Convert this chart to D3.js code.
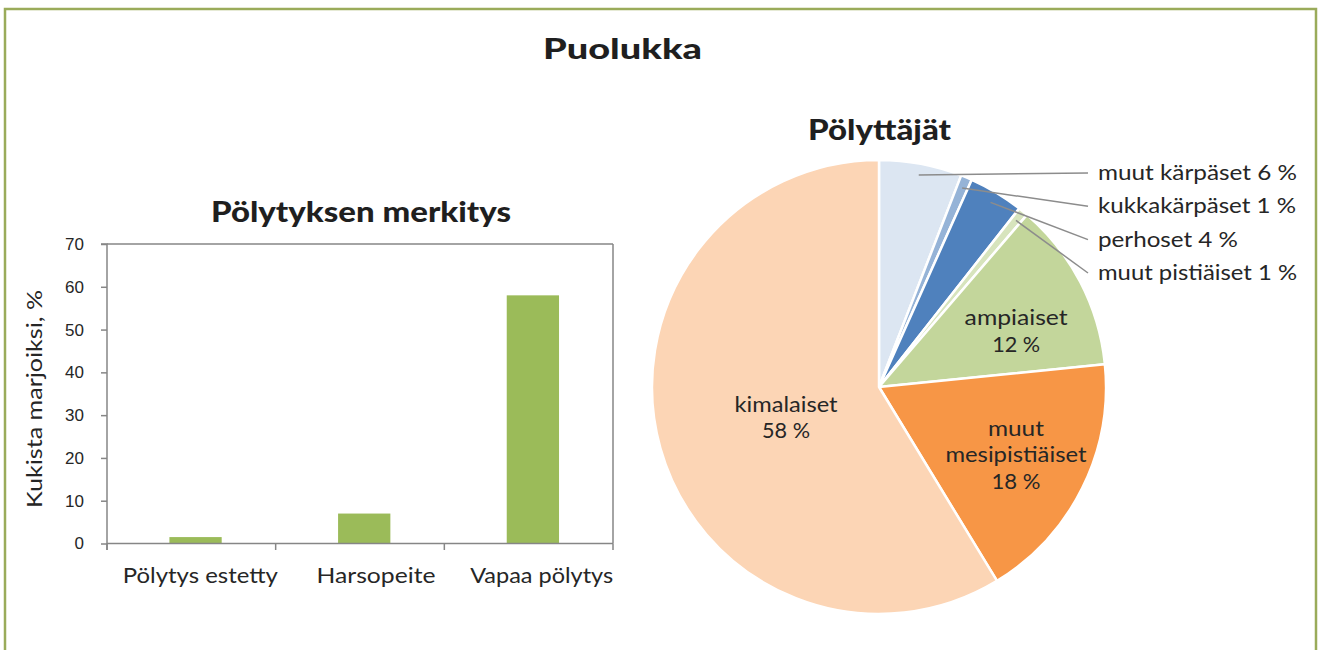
<!DOCTYPE html>
<html>
<head>
<meta charset="utf-8">
<script src="https://cdn.jsdelivr.net/npm/d3@7"></script>
<style>
  html, body { margin: 0; padding: 0; background: #fff; }
  svg { display: block; }
</style>
</head>
<body>
<svg id="chart" width="1318" height="650"></svg>
<script>
// ---------- data ----------
const mainTitle = "Puolukka";

const barTitle = "Pölytyksen merkitys";
const barCategories = ["Pölytys estetty", "Harsopeite", "Vapaa pölytys"];
const barValues = [1.5, 7, 58];
const yTickValues = [0, 10, 20, 30, 40, 50, 60, 70];
const yAxisLabel = "Kukista marjoiksi, %";

const pieTitle = "Pölyttäjät";
const pieCategories = ["muut kärpäset", "kukkakärpäset", "perhoset", "muut pistiäiset",
                       "ampiaiset", "muut mesipistiäiset", "kimalaiset"];
const pieValues = [5.9, 0.8, 3.9, 0.7, 12.1, 17.9, 58.7];
const piePercentLabels = ["6 %", "1 %", "4 %", "1 %", "12 %", "18 %", "58 %"];
const pieColors = ["#DCE6F2", "#95B3D7", "#4F81BD", "#D7E4BD", "#C3D69B", "#F79646", "#FCD5B5"];

// ---------- setup ----------
const svg = d3.select("#chart");
const FONT = "Lato, 'Open Sans', sans-serif";
const TXT = "#262626";

// frame
svg.append("rect")
  .attr("x", 5).attr("y", 9).attr("width", 1311).attr("height", 720)
  .attr("fill", "none").attr("stroke", "#9aab5a").attr("stroke-width", 2.5);

function fit(sel, w) {
  sel.attr("textLength", w).attr("lengthAdjust", "spacingAndGlyphs");
  return sel;
}

// main title
fit(svg.append("text")
  .attr("x", 622.5).attr("y", 59)
  .attr("text-anchor", "middle")
  .attr("font-family", FONT).attr("font-weight", 900).attr("font-size", 29)
  .attr("fill", "#1f1f1f").text(mainTitle), 159);

// ---------- bar chart ----------
const plot = { left: 107, right: 613, top: 244, bottom: 543.5 };
const xCat = d3.scaleBand().domain(barCategories).range([plot.left, plot.right]).padding(0);
const y = d3.scaleLinear().domain([0, 70]).range([plot.bottom, plot.top]);
const bw = xCat.bandwidth() * 0.31;
const barShift = xCat.bandwidth() * 0.025;

fit(svg.append("text")
  .attr("x", 361).attr("y", 222)
  .attr("text-anchor", "middle")
  .attr("font-family", FONT).attr("font-weight", 900).attr("font-size", 28)
  .attr("fill", "#1f1f1f").text(barTitle), 300);

const AX = "#868686";
// bars
svg.append("g").selectAll("rect").data(barValues).join("rect")
  .attr("x", (d, i) => xCat(barCategories[i]) + xCat.bandwidth() / 2 - bw / 2 + barShift)
  .attr("y", d => y(d))
  .attr("width", bw)
  .attr("height", d => y(0) - y(d))
  .attr("fill", "#9BBB59");

// plot frame: top and right
svg.append("line").attr("x1", plot.left).attr("x2", plot.right)
  .attr("y1", y(70)).attr("y2", y(70)).attr("stroke", AX).attr("stroke-width", 1.5);
svg.append("line").attr("x1", plot.right).attr("x2", plot.right)
  .attr("y1", y(70)).attr("y2", y(0)).attr("stroke", AX).attr("stroke-width", 1.5);

// y axis
const yAxis = d3.axisLeft(y).tickValues(yTickValues).tickSize(6).tickPadding(17).tickFormat(d3.format("d"));
const gy = svg.append("g").attr("transform", `translate(${plot.left},0)`).call(yAxis);
gy.select(".domain").attr("stroke", AX).attr("stroke-width", 1.5)
  .attr("d", `M-6,${y(70)}H0V${y(0) + 6.5}`);
gy.selectAll(".tick line").attr("stroke", AX).attr("stroke-width", 1.5);
gy.selectAll(".tick text")
  .attr("font-family", "'Liberation Sans', Arial, sans-serif")
  .attr("font-size", 17).attr("fill", TXT);

// x axis
svg.append("line").attr("x1", plot.left).attr("x2", plot.right)
  .attr("y1", y(0)).attr("y2", y(0)).attr("stroke", AX).attr("stroke-width", 1.5);
const boundaries = barCategories.map(c => xCat(c)).concat([xCat(barCategories[barCategories.length - 1]) + xCat.bandwidth()]);
svg.append("g").selectAll("line").data(boundaries).join("line")
  .attr("x1", d => d).attr("x2", d => d)
  .attr("y1", y(0)).attr("y2", y(0) + 6.5)
  .attr("stroke", AX).attr("stroke-width", 1.5);

const xLabelWidths = { "Pölytys estetty": 155, "Harsopeite": 119, "Vapaa pölytys": 143 };
const xLabelShift = { "Pölytys estetty": 9, "Harsopeite": 16, "Vapaa pölytys": 13 };
svg.append("g").selectAll("text").data(barCategories).join("text")
  .attr("x", d => xCat(d) + xCat.bandwidth() / 2 + xLabelShift[d])
  .attr("y", 583)
  .attr("text-anchor", "middle")
  .attr("font-family", FONT).attr("font-size", 22).attr("fill", TXT)
  .attr("textLength", d => xLabelWidths[d]).attr("lengthAdjust", "spacingAndGlyphs")
  .text(d => d);

// y axis title
fit(svg.append("text")
  .attr("transform", "translate(42,399) rotate(-90)")
  .attr("text-anchor", "middle")
  .attr("font-family", FONT).attr("font-size", 21).attr("fill", TXT)
  .text(yAxisLabel), 218);

// ---------- pie chart ----------
const cx = 879, cy = 387, R = 227;

fit(svg.append("text")
  .attr("x", 879.5).attr("y", 140)
  .attr("text-anchor", "middle")
  .attr("font-family", FONT).attr("font-weight", 900).attr("font-size", 29)
  .attr("fill", "#1f1f1f").text(pieTitle), 143);

const pieData = pieCategories.map((c, i) => ({ name: c, value: pieValues[i], label: piePercentLabels[i], color: pieColors[i] }));
const arcs = d3.pie().sort(null).value(d => d.value)(pieData);
const arc = d3.arc().innerRadius(0).outerRadius(R);

const gp = svg.append("g").attr("transform", `translate(${cx},${cy})`);
gp.selectAll("path").data(arcs).join("path")
  .attr("d", arc)
  .attr("fill", d => d.data.color)
  .attr("stroke", "#fff").attr("stroke-width", 2.5).attr("stroke-linejoin", "round");

// outside labels for small slices
const outside = pieCategories.slice(0, 4);
const labelY = d3.scalePoint().domain(outside).range([180, 280]);
const outsideWidths = [199, 198, 140, 199];
const lineArc = d3.arc().innerRadius(R * 0.95).outerRadius(R * 0.95);
arcs.slice(0, 4).forEach((a, i) => {
  const [px, py] = lineArc.centroid(a);
  const ty = labelY(a.data.name);
  svg.append("line")
    .attr("x1", cx + px).attr("y1", cy + py)
    .attr("x2", 1088).attr("y2", ty - 7)
    .attr("stroke", "#8c8c8c").attr("stroke-width", 1.5);
  fit(svg.append("text")
    .attr("x", 1098).attr("y", ty)
    .attr("font-family", FONT).attr("font-size", 22).attr("fill", TXT)
    .text(a.data.name + " " + a.data.label), outsideWidths[i]);
});

// inside labels
const inside = {
  "ampiaiset":            { r: 148, da: 0.095, lines: ["ampiaiset"],              w: [103, 48] },
  "muut mesipistiäiset":  { r: 153, da: 0,     lines: ["muut", "mesipistiäiset"], w: [56, 141, 49] },
  "kimalaiset":           { r: 98,  da: -0.05, lines: ["kimalaiset"],             w: [103, 48] }
};
arcs.filter(a => inside[a.data.name]).forEach(a => {
  const cfg = inside[a.data.name];
  const ang = (a.startAngle + a.endAngle) / 2 + cfg.da;
  const lx = cx + cfg.r * Math.sin(ang);
  const ly = cy - cfg.r * Math.cos(ang);
  const lines = cfg.lines.concat([a.data.label]);
  const lh = 26.5;
  const y0 = ly - (lines.length - 1) * lh / 2 + 7;
  lines.forEach((t, j) => {
    fit(svg.append("text")
      .attr("x", lx).attr("y", y0 + j * lh)
      .attr("text-anchor", "middle")
      .attr("font-family", FONT).attr("font-size", 22).attr("fill", TXT)
      .text(t), cfg.w[j]);
  });
});
</script>
</body>
</html>
